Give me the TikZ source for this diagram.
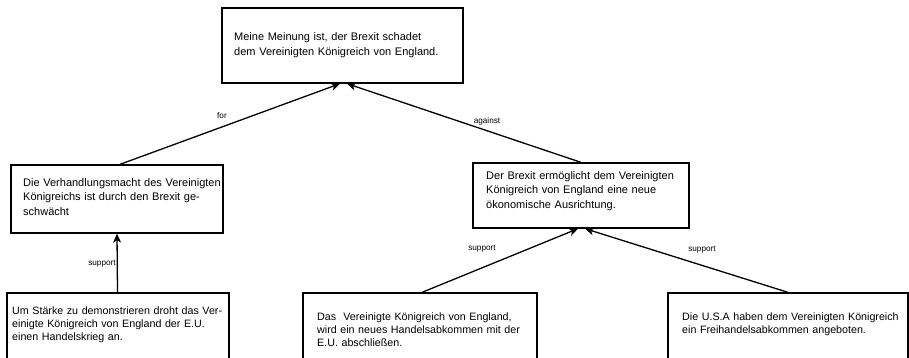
\documentclass[tikz,border=0pt]{standalone}
\usepackage{fontspec}
\setmainfont{Liberation Sans}
\usetikzlibrary{arrows.meta}
\begin{document}
\begin{tikzpicture}[x=1pt,y=-1pt,
  box/.style={draw, line width=1.3pt, rectangle, inner sep=0pt, fill=white},
  txt/.style={inner sep=0pt, anchor=base west, text width=240pt, align=left,
    font=\fontsize{11}{14.6}\selectfont},
  txtlow/.style={txt, font=\fontsize{10.7}{13.2}\selectfont},
  lbl/.style={inner sep=0pt, font=\fontsize{8.2}{10}\selectfont},
  link/.style={line width=1.3pt, -{Stealth[length=9pt,width=8pt,inset=2.5pt]}}]
\useasboundingbox (0,0) rectangle (909,357);
\clip (0,0) rectangle (909,357);
\fill[white] (0,0) rectangle (909,357);

% argument boxes
\node[box, minimum width=241pt, minimum height=75pt] (claim) at (342.5,45.5) {};
\node[box, minimum width=212pt, minimum height=68pt] (pro) at (117,199) {};
\node[box, minimum width=216pt, minimum height=65pt] (con) at (581,195.5) {};
\node[box, minimum width=222pt, minimum height=82pt] (trade) at (118,334) {};
\node[box, minimum width=234pt, minimum height=82pt] (deal) at (420,334) {};
\node[box, minimum width=240pt, minimum height=82pt] (usa) at (788,334) {};

% box texts
\node[txt] (claimT) at (234,40.5) {Meine Meinung ist, der Brexit schadet\\dem Vereinigten Königreich von England.};
\node[txt] (proT) at (23,186) {Die Verhandlungsmacht des Vereinigten\\Königreichs ist durch den Brexit ge-\\schwächt};
\node[txt] (conT) at (486,179) {Der Brexit ermöglicht dem Vereinigten\\Königreich von England eine neue\\ökonomische Ausrichtung.};
\node[txtlow] (tradeT) at (12,314) {Um Stärke zu demonstrieren droht das Ver-\\einigte Königreich von England der E.U.\\einen Handelskrieg an.};
\node[txtlow] (dealT) at (317,320) {Das\ \ Vereinigte Königreich von England,\\wird ein neues Handelsabkommen mit der\\E.U. abschließen.};
\node[txtlow] (usaT) at (682,320) {Die U.S.A haben dem Vereinigten Königreich\\ein Freihandelsabkommen angeboten.};

% connectors
\draw[link] ([xshift=3pt]pro.north) -- ([xshift=-2.5pt]claim.south);
\draw[link] (con.north) -- ([xshift=4.5pt]claim.south);
\draw[link] ([xshift=-0.5pt]trade.north) -- (pro.south);
\draw[link] ([xshift=2pt]deal.north) -- ([xshift=-3pt]con.south);
\draw[link] (usa.north) -- ([xshift=4pt]con.south);

% connector labels
\node[lbl] (forL) at (222,116) {for};
\node[lbl] (againstL) at (487,121) {against};
\node[lbl] (sup1) at (102,264) {support};
\node[lbl] (sup2) at (482,249) {support};
\node[lbl] (sup3) at (702,250) {support};
\end{tikzpicture}
\end{document}
